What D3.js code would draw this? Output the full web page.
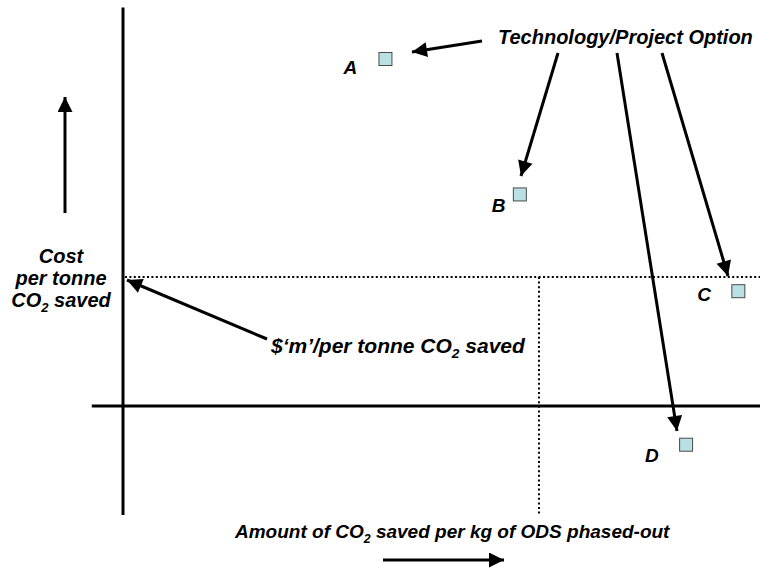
<!DOCTYPE html>
<html><head><meta charset="utf-8">
<script src="https://cdn.jsdelivr.net/npm/d3@7/dist/d3.min.js"></script>
<style>
html,body{margin:0;padding:0;background:#fff;}
svg text{font-family:"Liberation Sans",Arial,sans-serif;font-weight:bold;font-style:italic;fill:#000;}
</style></head>
<body>
<svg id="chart" width="761" height="575"></svg>
<script>
// ---- data ----
const optionLabels = ["A", "B", "C", "D"];
const savedCO2 = [41.2, 62.3, 96.6, 88.4];      // x: amount of CO2 saved per kg ODS
const costPerTonne = [269, 164, 89, -30];        // y: cost per tonne CO2 saved
const thresholdCost = 100;                       // $'m' per tonne
const thresholdSaved = 65.3;                     // x where threshold meets
const xExtent = [-4.9, 100];
const yExtent = [-84.5, 309];

const svg = d3.select("#chart");
const x = d3.scaleLinear().domain([0, 100]).range([123, 760]);
const y = d3.scaleLinear().domain([0, 100]).range([406, 277]);

// arrow marker
const defs = svg.append("defs");
defs.append("marker").attr("id", "ah").attr("viewBox", "0 0 10 10")
  .attr("refX", 10).attr("refY", 5).attr("markerUnits", "userSpaceOnUse")
  .attr("markerWidth", 17).attr("markerHeight", 15).attr("orient", "auto")
  .append("path").attr("d", "M0,0 L10,5 L0,10 Z").attr("fill", "#000");

// axes
svg.append("line").attr("x1", x(0)).attr("x2", x(0))
  .attr("y1", y(yExtent[1])).attr("y2", y(yExtent[0]))
  .attr("stroke", "#000").attr("stroke-width", 3);
svg.append("line").attr("x1", x(xExtent[0])).attr("x2", x(xExtent[1]))
  .attr("y1", y(0)).attr("y2", y(0))
  .attr("stroke", "#000").attr("stroke-width", 3);

// threshold dotted lines
svg.append("line").attr("x1", x(0) + 2).attr("x2", x(100))
  .attr("y1", y(thresholdCost)).attr("y2", y(thresholdCost))
  .attr("stroke", "#000").attr("stroke-width", 2).attr("stroke-dasharray", "2,2.4");
svg.append("line").attr("x1", x(thresholdSaved)).attr("x2", x(thresholdSaved))
  .attr("y1", y(thresholdCost)).attr("y2", y(yExtent[0]))
  .attr("stroke", "#000").attr("stroke-width", 2).attr("stroke-dasharray", "2,2.6");

// points
const pts = optionLabels.map((l, i) => ({label: l, x: savedCO2[i], y: costPerTonne[i]}));
svg.selectAll("rect.pt").data(pts).join("rect").attr("class", "pt")
  .attr("x", d => x(d.x) - 6.5).attr("y", d => y(d.y) - 6.5)
  .attr("width", 13).attr("height", 13)
  .attr("fill", "#b9e0e2").attr("stroke", "#4a4a4a").attr("stroke-width", 1);

// point labels
const labelOff = {A: [-42, 15], B: [-28, 18], C: [-41, 10], D: [-41, 17]};
svg.selectAll("text.pl").data(pts).join("text").attr("class", "pl")
  .attr("x", d => x(d.x) + labelOff[d.label][0])
  .attr("y", d => y(d.y) + labelOff[d.label][1])
  .attr("font-size", 19).text(d => d.label);

// arrows
function arrow(x1, y1, x2, y2) {
  svg.append("line").attr("x1", x1).attr("y1", y1).attr("x2", x2).attr("y2", y2)
    .attr("stroke", "#000").attr("stroke-width", 3).attr("marker-end", "url(#ah)");
}
arrow(482, 41, 412, 52);
arrow(558, 53, 521, 176);
arrow(617, 53, 677, 431);
arrow(662, 53, 728, 276);
arrow(267, 339, 127, 280);
arrow(65, 213, 65, 97);
arrow(383, 560, 504, 560);

// texts
svg.append("text").attr("x", 498).attr("y", 44).attr("font-size", 20).text("Technology/Project Option");

function co2Text(xp, yp, size, before, after, anchor) {
  const t = svg.append("text").attr("x", xp).attr("y", yp).attr("font-size", size)
    .attr("text-anchor", anchor || "start");
  t.append("tspan").text(before + "CO");
  t.append("tspan").attr("font-size", size * 0.65).attr("dy", 5).text("2");
  t.append("tspan").attr("dy", -5).text(after);
  return t;
}
const leftLabel = ["Cost", "per tonne"];
leftLabel.forEach((s, i) => {
  svg.append("text").attr("x", 61).attr("y", 263 + i * 22).attr("font-size", 20)
    .attr("text-anchor", "middle").text(s);
});
co2Text(61, 307, 20, "", " saved", "middle");
co2Text(271, 353, 21, "$\u2018m\u2019/per tonne ", " saved");
co2Text(235, 538, 19, "Amount of ", " saved per kg of ODS phased-out");
</script>
</body></html>
